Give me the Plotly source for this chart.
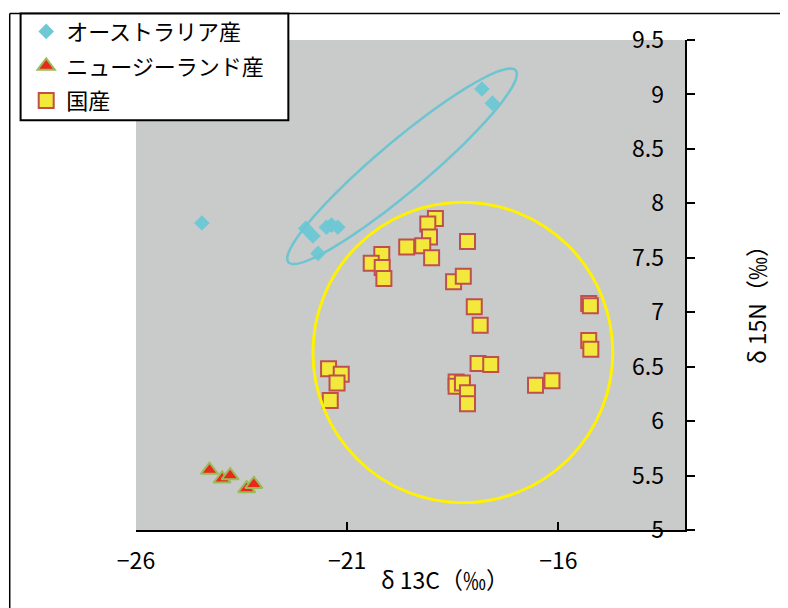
import numpy as np
import plotly.graph_objects as go

# Data
aus_x = [-24.44, -17.81, -17.56, -21.98, -21.81, -21.69, -21.49, -21.37, -21.22]
aus_y = [7.82, 9.05, 8.92, 7.77, 7.70, 7.54, 7.78, 7.80, 7.78]

nz_x = [-24.26, -23.96, -23.77, -23.38, -23.21]
nz_y = [5.55, 5.47, 5.50, 5.38, 5.42]

jp_x = [-18.91, -19.09, -19.05, -19.59, -19.21, -19.00, -18.15, -20.18, -20.43, -20.17,
        -20.13, -18.48, -18.25, -17.99, -17.85, -15.28, -15.24, -15.28, -15.23, -17.90,
        -17.60, -16.54, -16.15, -21.44, -21.14, -21.24, -21.40, -18.42, -18.42, -18.27,
        -18.15, -18.15]
jp_y = [7.86, 7.81, 7.69, 7.60, 7.61, 7.50, 7.65, 7.53, 7.45, 7.41,
        7.31, 7.28, 7.33, 7.05, 6.88, 7.08, 7.06, 6.74, 6.66, 6.53,
        6.52, 6.33, 6.37, 6.48, 6.43, 6.35, 6.19, 6.36, 6.32, 6.35,
        6.26, 6.16]

names = ["オーストラリア産", "ニュージーランド産", "国産"]
x_ticks = [-26, -21, -16]
y_ticks = [5, 5.5, 6, 6.5, 7, 7.5, 8, 8.5, 9, 9.5]
y_tick_text = ["5", "5.5", "6", "6.5", "7", "7.5", "8", "8.5", "9", "9.5"]

FONT = "Noto Sans CJK JP, Liberation Sans, sans-serif"

fig = go.Figure()
fig.add_trace(go.Scatter(
    x=aus_x, y=aus_y, mode="markers", name=names[0], legendgroup="a",
    marker=dict(symbol="diamond", size=12, color="#70C8D4", line=dict(width=0))))
fig.add_trace(go.Scatter(
    x=nz_x, y=nz_y, mode="markers", name=names[1], legendgroup="b",
    marker=dict(symbol="triangle-up", size=15, color="#E8291C",
                line=dict(width=2, color="#9BBB59"))))
fig.add_trace(go.Scatter(
    x=jp_x, y=jp_y, mode="markers", name=names[2], legendgroup="c",
    marker=dict(symbol="square", size=15, color="#F2E93C",
                line=dict(width=2, color="#C0504D"))))
# empty trace to carry the label-only y axis
fig.add_trace(go.Scatter(x=[], y=[], yaxis="y2", showlegend=False, hoverinfo="skip"))

# Plot area pixel geometry (for decorative ellipse in data units)
px_per_x = 42.4
px_per_y = 108.8

# Cyan ellipse (tilted)
cx, cy = -19.70, 8.34
a_px, b_px, ang = 149.0, 25.0, np.deg2rad(40.0)
t = np.linspace(0, 2 * np.pi, 121)
ex = a_px * np.cos(t) * np.cos(ang) - b_px * np.sin(t) * np.sin(ang)
ey = a_px * np.cos(t) * np.sin(ang) + b_px * np.sin(t) * np.cos(ang)
xs = cx + ex / px_per_x
ys = cy + ey / px_per_y
path = "M " + " L ".join(f"{x:.4f},{y:.4f}" for x, y in zip(xs, ys)) + " Z"

shapes = [
    dict(type="path", path=path, xref="x", yref="y",
         line=dict(color="#6CC5D0", width=2.5), layer="above"),
    dict(type="circle", xref="x", yref="y", x0=-21.81, x1=-14.71, y0=5.25, y1=8.01,
         line=dict(color="#FFF200", width=3), layer="above"),
    # outer chart frame (left and top edges)
    dict(type="line", xref="paper", yref="paper", x0=-0.230, x1=-0.230, y0=-0.2, y1=1.054,
         line=dict(color="black", width=1.5)),
    dict(type="line", xref="paper", yref="paper", x0=-0.230, x1=1.2, y0=1.054, y1=1.054,
         line=dict(color="black", width=1.5)),
    # legend frame
    dict(type="rect", xref="paper", yref="paper", x0=-0.2102, x1=0.2775, y0=0.836, y1=1.054,
         fillcolor="white", line=dict(color="black", width=2), layer="above"),
]

fig.update_layout(
    width=780, height=600,
    margin=dict(l=127.5, r=103, t=32, b=78.4, autoexpand=False),
    paper_bgcolor="white",
    plot_bgcolor="#C9CACA",
    font=dict(family=FONT, size=23, color="black"),
    showlegend=True,
    legend=dict(
        x=-0.200, y=1.060, xanchor="left", yanchor="top",
        bgcolor="rgba(0,0,0,0)", borderwidth=0,
        font=dict(family=FONT, size=22, color="black"),
        traceorder="grouped", tracegroupgap=3,
    ),
    xaxis=dict(
        range=[-26, -13], tickvals=x_ticks, showgrid=False, zeroline=False,
        showline=True, linecolor="black", linewidth=2, domain=[0, 1],
        ticks="inside", ticklen=8, tickwidth=2, tickcolor="black",
        ticklabelstandoff=9,
    ),
    yaxis=dict(
        range=[5, 9.5], tickvals=y_ticks, side="right",
        showgrid=False, zeroline=False, showticklabels=False,
        showline=True, linecolor="black", linewidth=2,
        ticks="outside", ticklen=8, tickwidth=2, tickcolor="black",
    ),
    yaxis2=dict(
        range=[5, 9.5], tickvals=y_ticks, ticktext=y_tick_text,
        overlaying="y", side="left", anchor="free", position=1.0,
        showgrid=False, zeroline=False, showline=False, ticks="",
        ticklabelstandoff=21,
    ),
    shapes=shapes,
    annotations=[
        dict(text="δ 13C（‰）", xref="paper", yref="paper", x=0.563, y=-0.099,
             xanchor="center", yanchor="middle", showarrow=False,
             font=dict(family=FONT, size=23)),
        dict(text="δ 15N（‰）", xref="paper", yref="paper", x=1.129, y=0.471,
             xanchor="center", yanchor="middle", showarrow=False, textangle=-90,
             font=dict(family=FONT, size=23)),
    ],
)

fig.write_html("out.html")
